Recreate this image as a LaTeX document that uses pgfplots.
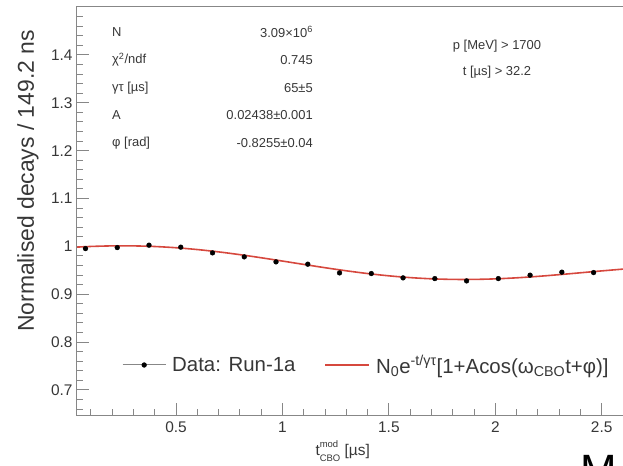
\documentclass[border=0pt]{standalone}
\usepackage{pgfplots}
\pgfplotsset{compat=1.18}
\usepackage{fontspec}
\setmainfont{Liberation Sans}
\definecolor{axgray}{RGB}{135,135,135}
\definecolor{txt}{RGB}{55,55,55}
\definecolor{fitred}{RGB}{214,72,62}
\pgfplotstableread{
t y
0.0746 0.9954
0.2238 0.9975
0.3730 1.0025
0.5222 0.9983
0.6714 0.9864
0.8206 0.9781
0.9698 0.9676
1.1190 0.9628
1.2682 0.9446
1.4174 0.9432
1.5666 0.9342
1.7158 0.9327
1.8650 0.9279
2.0142 0.9327
2.1634 0.9398
2.3126 0.9461
2.4618 0.9453
}\datatab
\pgfplotstableread{
t y
0.03 0.99836
0.1 0.99983
0.2 1.00101
0.3 1.00099
0.4 0.99971
0.5 0.99714
0.6 0.99336
0.7 0.98848
0.8 0.98269
0.9 0.97622
1.0 0.96933
1.1 0.96231
1.2 0.95543
1.3 0.94898
1.4 0.94325
1.5 0.93847
1.6 0.93476
1.7 0.93225
1.8 0.93100
1.9 0.93100
2.0 0.93214
2.1 0.93431
2.2 0.93732
2.3 0.94092
2.4 0.94483
2.5 0.94877
2.6 0.95250
}\fittab
\begin{document}
\begin{tikzpicture}[x=1bp,y=1bp]
\useasboundingbox (0,0) rectangle (623,466);
\begin{axis}[
  at={(76bp,50bp)}, anchor=south west,
  scale only axis, width=547bp, height=409bp,
  xmin=0.03, xmax=2.6, ymin=0.6457, ymax=1.5,
  axis line style={draw=none},
  tick align=inside, xtick pos=left, ytick pos=left,
  xtick={0.5,1,1.5,2,2.5}, xticklabels={0.5,1,1.5,2,2.5},
  ytick={0.7,0.8,0.9,1,1.1,1.2,1.3,1.4},
  yticklabels={0.7,0.8,0.9,1,1.1,1.2,1.3,1.4},
  minor xtick={0.1,0.2,0.3,0.4,0.6,0.7,0.8,0.9,1.1,1.2,1.3,1.4,1.6,1.7,1.8,1.9,2.1,2.2,2.3,2.4},
  minor ytick={0.66,0.68,0.72,0.74,0.76,0.78,0.82,0.84,0.86,0.88,0.92,0.94,0.96,0.98,1.02,1.04,1.06,1.08,1.12,1.14,1.16,1.18,1.22,1.24,1.26,1.28,1.32,1.34,1.36,1.38,1.42,1.44,1.46,1.48},
  major tick length=13bp, minor tick length=6.5bp,
  tick style={axgray, line width=1bp},
  ticklabel style={font=\fontsize{15.5}{18}\selectfont, text=txt},
  xticklabel style={yshift=-2bp},
  /pgf/number format/assume math mode=true,
  xlabel={t\makebox[0pt][l]{\raisebox{0.55em}{\fontsize{9.5}{10}\selectfont mod}}\raisebox{-0.35em}{\fontsize{9.5}{10}\selectfont CBO} [µs]},
  every axis x label/.style={at={(axis description cs:0.4875,-0.0856)}, anchor=center, font=\fontsize{15.5}{18}\selectfont, text=txt},
  ylabel={Normalised decays / 149.2 ns},
  every axis y label/.style={at={(axis description cs:-0.0878,0.5746)}, rotate=90, anchor=center, font=\fontsize{23}{26}\selectfont, text=txt},
  legend columns=2, reverse legend,
  legend style={draw=none, fill=none, at={(axis description cs:0.0786,0.1247)}, anchor=west,
    font=\fontsize{20.5}{24}\selectfont, text=txt,
    /tikz/every odd column/.append style={column sep=4bp},
    /tikz/every even column/.append style={column sep=27bp}},
]
\addplot[fitred, line width=1.6bp, smooth, no markers,
  legend image code/.code={\draw[fitred, line width=1.6bp] (0bp,0bp) -- (44bp,0bp);}]
  table[x=t, y=y] {\fittab};
\addlegendentry{N\textsubscript{0}e\textsuperscript{-t/γτ}[1+Acos(ω\textsubscript{CBO}t+φ)]}
\addplot[only marks, mark=*, mark size=2.4bp, black,
  legend image code/.code={\draw[axgray, line width=1bp] (0bp,0bp) -- (43bp,0bp); \fill[black] (21.5bp,0bp) circle (2.4bp);}]
  table[x=t, y=y] {\datatab};
\addlegendentry{Data: Run-1a}
\draw[axgray, line width=1bp] (rel axis cs:1,1) -- (rel axis cs:0,1) -- (rel axis cs:0,0) -- (rel axis cs:1,0);
\end{axis}
\begin{scope}[every node/.style={font=\fontsize{13}{15}\selectfont, text=txt, inner sep=0}]
\node[anchor=west] at (112,434) {N};
\node[anchor=west] at (112,406) {χ\textsuperscript{2}/ndf};
\node[anchor=west] at (112,378) {γτ [µs]};
\node[anchor=west] at (112,351) {A};
\node[anchor=west] at (112,323) {φ [rad]};
\node[anchor=east] at (313,434) {3.09×10\textsuperscript{6}};
\node[anchor=east] at (313,406) {0.745};
\node[anchor=east] at (313,378) {65±5};
\node[anchor=east] at (313,351) {0.02438±0.001};
\node[anchor=east] at (313,323) {-0.8255±0.04};
\node[anchor=center] at (497,420) {p [MeV] > 1700};
\node[anchor=center] at (497,394) {t [µs] > 32.2};
\end{scope}
\node[anchor=base west, inner sep=0, font=\fontsize{44}{48}\selectfont] at (580,-19.5) {M};
\end{tikzpicture}
\end{document}
